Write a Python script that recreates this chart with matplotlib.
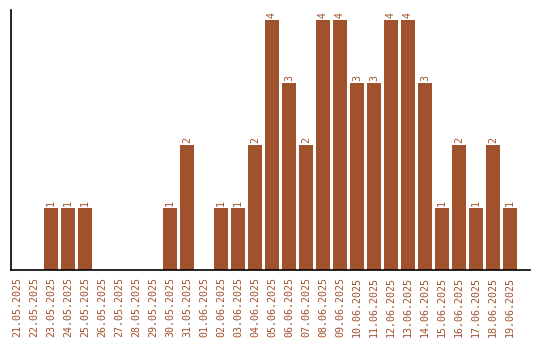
import matplotlib
matplotlib.use("Agg")
import matplotlib.pyplot as plt

dates = ["21.05.2025", "22.05.2025", "23.05.2025", "24.05.2025", "25.05.2025",
         "26.05.2025", "27.05.2025", "28.05.2025", "29.05.2025", "30.05.2025",
         "31.05.2025", "01.06.2025", "02.06.2025", "03.06.2025", "04.06.2025",
         "05.06.2025", "06.06.2025", "07.06.2025", "08.06.2025", "09.06.2025",
         "10.06.2025", "11.06.2025", "12.06.2025", "13.06.2025", "14.06.2025",
         "15.06.2025", "16.06.2025", "17.06.2025", "18.06.2025", "19.06.2025"]
counts = [0, 0, 1, 1, 1, 0, 0, 0, 0, 1, 2, 0, 1, 1, 2,
          4, 3, 2, 4, 4, 3, 3, 4, 4, 3, 1, 2, 1, 2, 1]

col = "#A0522D"
fnt = "DejaVu Sans Mono"

fig = plt.figure(figsize=(5.4, 3.4), dpi=100)
ax = fig.add_axes([11/540, 1 - 270/340, 519/540, 260/340])

x = list(range(len(dates)))
ax.bar(x, counts, width=0.82, color=col)

for i, v in enumerate(counts):
    if v > 0:
        ax.text(i, v + 0.03, str(v), rotation=90, ha="center", va="bottom",
                color=col, fontsize=7.2, family=fnt)

ax.set_xlim(-0.35, 30.18)
ax.set_ylim(0, 4.16)
ax.set_xticks(x)
ax.set_xticklabels(dates, rotation=90, color=col, fontsize=7.2, family=fnt)
ax.tick_params(axis="x", length=0, pad=5)
ax.set_yticks([])
ax.spines["top"].set_visible(False)
ax.spines["right"].set_visible(False)
ax.spines["left"].set_linewidth(1.2)
ax.spines["bottom"].set_linewidth(1.2)

fig.savefig("out.png", dpi=100)
